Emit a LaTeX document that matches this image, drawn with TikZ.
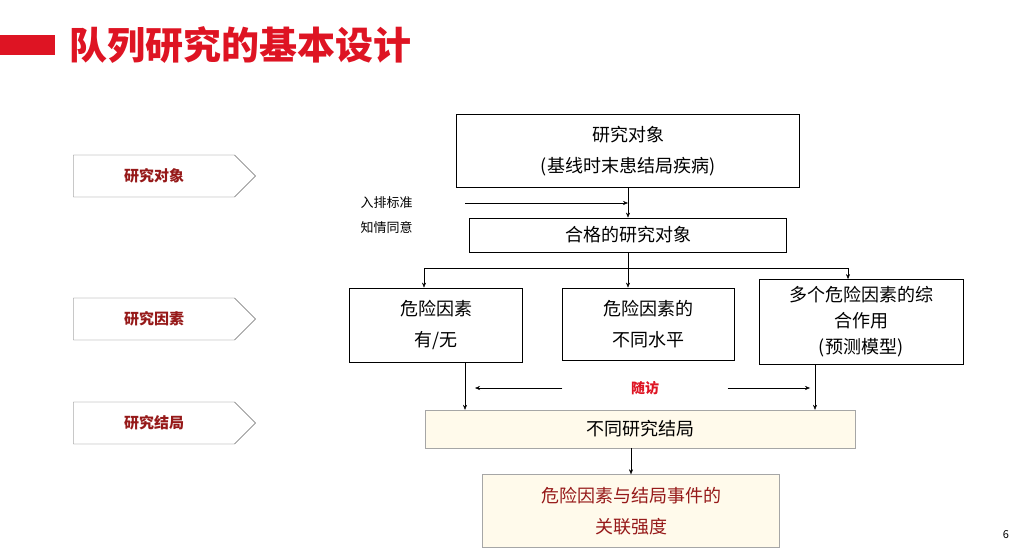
\documentclass[tikz,border=0pt]{standalone}
\usepackage{fontspec}
\setmainfont{Noto Sans CJK SC}
\usetikzlibrary{positioning,shapes.arrows,arrows.meta}
\definecolor{titlered}{RGB}{222,20,35}
\definecolor{labred}{RGB}{150,25,25}
\definecolor{ivory}{RGB}{255,250,235}
\tikzset{
  box/.style={draw, thick, align=center, inner sep=0pt, font=\fontsize{18}{31}\selectfont},
  softbox/.style={box, draw=gray!70, fill=ivory, thin},
  side/.style={draw=black!60, fill=white, single arrow, single arrow head extend=0pt,
    minimum height=182pt, minimum width=42pt, single arrow tip angle=90, inner sep=0pt,
    font=\fontsize{15}{15}\selectfont\bfseries, text=labred},
  arr/.style={-{Stealth[length=5pt,width=4pt]}, thin}
}
\begin{document}
\begin{tikzpicture}[x=1pt,y=-1pt]
\useasboundingbox (0,0) rectangle (1025,556);
% title
\fill[titlered] (0,35) rectangle (55,55);
\node[anchor=west, text=titlered, font=\fontsize{38}{38}\selectfont\bfseries] (title) at (66,45) {队列研究的基本设计};

% left side arrows
\node[side] (s_obj) at (154,176) {研究对象};
\node[side] (s_fac) at (154,319) {研究因素};
\node[side] (s_out) at (154,423) {研究结局};

% main flow
\node[box, minimum width=343pt, minimum height=73pt] (obj) at (628,151)
  {研究对象\\(基线时末患结局疾病)};
\node[box, minimum width=317pt, minimum height=34pt] (elig) at (628,235) {合格的研究对象};
\node[box, minimum width=173pt, minimum height=74pt] (f_1) at (436,325) {危险因素\\有/无};
\node[box, minimum width=172pt, minimum height=72pt] (f_2) at (648,324) {危险因素的\\不同水平};
\node[box, minimum width=204pt, minimum height=85pt, font=\fontsize{18}{26}\selectfont] (f_3) at (861,322)
  {多个危险因素的综\\合作用\\(预测模型)};
\node[softbox, minimum width=430pt, minimum height=38pt] (out) at (640,429) {不同研究结局};
\node[softbox, minimum width=297pt, minimum height=73pt, text=labred] (assoc) at (631,511)
  {危险因素与结局事件的\\关联强度};

\node[anchor=west, font=\fontsize{13}{25}\selectfont, align=left] (crit) at (357,215) {入排标准\\知情同意};
\node[text=titlered, font=\fontsize{14}{14}\selectfont\bfseries] (fu) at (645,388) {随访};
\node[font=\fontsize{11}{11}\selectfont] (page) at (1006,535) {6};

\coordinate (c_in) at (465,203);
\coordinate (c_mid) at (628,268);
\coordinate (c_l) at (424,268);
\coordinate (c_r) at (848,268);

\draw[arr] (obj) -- (elig);
\draw[arr] (c_in) -- (c_in -| obj.south);
\draw (elig) -- (c_mid);
\draw (c_l) -- (c_r);
\draw[arr] (c_l) -- (c_l |- f_1.north);
\draw[arr] (c_mid) -- (c_mid |- f_2.north);
\draw[arr] (c_r) -- (c_r |- f_3.north);
\draw[arr] (465,0 |- f_1.south) -- (465,0 |- out.north);
\draw[arr] (815,0 |- f_3.south) -- (815,0 |- out.north);
\draw[arr] ([xshift=-65pt]fu.west) -- (475,388);
\draw[arr] ([xshift=65pt]fu.east) -- (810,388);
\draw[arr] (out.south -| assoc.north) -- (assoc);
\end{tikzpicture}
\end{document}
